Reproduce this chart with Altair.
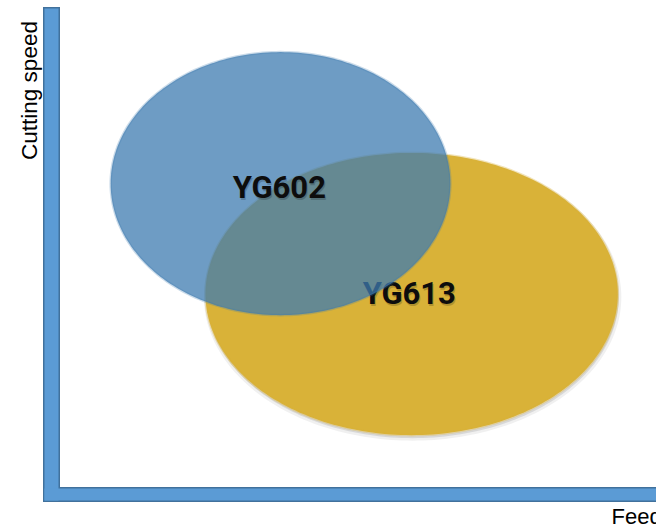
import numpy as np
import pandas as pd
import altair as alt

# Application regions of two carbide grades on the feed / cutting-speed plane
grades = ["YG613", "YG602"]
center_feed = [5.90, 3.70]
center_speed = [4.02, 6.32]
radius_feed = [3.46, 2.85]
radius_speed = [2.94, 2.74]
label_feed = [5.86, 3.68]
label_speed = [4.00, 6.21]
fill_colors = ["#d9b238", "#3e7bb0"]
fill_opacity = [1.0, 0.75]

FEED_MAX = 10
SPEED_MAX = 10
W, H = 596, 480

BAR_FILL = "#5b9bd5"
BAR_EDGE = "#41719c"
TEXT_FONT = "Liberation Sans"
GRADE_FONT = "Roboto"

# Ellipse outlines built from each region's centre and radii
t = np.linspace(0, 2 * np.pi, 241)[:-1]
rows = []
for g, cx, cy, rx, ry in zip(grades, center_feed, center_speed, radius_feed, radius_speed):
    for i, a in enumerate(t):
        rows.append({"grade": g, "i": i,
                     "feed": cx + rx * np.cos(a),
                     "speed": cy + ry * np.sin(a)})
outline = pd.DataFrame(rows)
labels = pd.DataFrame({"grade": grades, "feed": label_feed, "speed": label_speed})

x_enc = alt.X(
    "feed:Q",
    scale=alt.Scale(domain=[0, FEED_MAX], nice=False, zero=False),
    axis=alt.Axis(domain=False, ticks=False, labels=False, grid=False,
                  title="Feed", titleX=551, titleY=36, titleAlign="left",
                  titleBaseline="alphabetic", titleFont=TEXT_FONT,
                  titleFontSize=22, titleFontWeight="normal", titleColor="#000"),
)
y_enc = alt.Y(
    "speed:Q",
    scale=alt.Scale(domain=[0, SPEED_MAX], nice=False, zero=False),
    axis=alt.Axis(domain=False, ticks=False, labels=False, grid=False,
                  title="Cutting speed", titleX=-24, titleY=83, titleAngle=270,
                  titleAlign="center", titleBaseline="alphabetic",
                  titleFont=TEXT_FONT, titleFontSize=22.5,
                  titleFontWeight="normal", titleColor="#000"),
)

one = alt.Data(values=[{}])


def bar(x0, x1, y0, y1, color):
    return alt.Chart(one).mark_rect(color=color).encode(
        x=alt.value(x0), x2=alt.value(x1), y=alt.value(y0), y2=alt.value(y1)
    )


# Thick L-shaped frame standing in for the two axes
frame = [
    bar(-17, 0, 0, 495, BAR_EDGE),
    bar(-17, W, 480, 495, BAR_EDGE),
    bar(-15.5, -1.5, 1.5, 493.5, BAR_FILL),
    bar(-15.5, W, 481.5, 493.5, BAR_FILL),
]


def region(grade, color, opacity):
    return alt.Chart(outline).transform_filter(
        alt.datum.grade == grade
    ).mark_line(
        interpolate="linear-closed", fill=color, fillOpacity=opacity,
        stroke=color, strokeOpacity=0.35 * opacity, strokeWidth=2.5,
    ).encode(x=x_enc, y=y_enc, order=alt.Order("i:Q"))


def region_shadow(grade):
    return alt.Chart(outline).transform_filter(
        alt.datum.grade == grade
    ).mark_line(
        interpolate="linear-closed", fill="#000", fillOpacity=0.10,
        stroke="#000", strokeOpacity=0.06, strokeWidth=5, yOffset=3, xOffset=1,
    ).encode(x=x_enc, y=y_enc, order=alt.Order("i:Q"))


def grade_label(grade):
    base = alt.Chart(labels).transform_filter(alt.datum.grade == grade)
    glow = base.mark_text(
        font=GRADE_FONT, fontSize=31, fontWeight="bold", color="#000",
        opacity=0.18, dx=1, dy=2, align="center", baseline="middle",
    ).encode(x=x_enc, y=y_enc, text="grade:N")
    main = base.mark_text(
        font=GRADE_FONT, fontSize=31, fontWeight="bold", color="#0d0d0d",
        align="center", baseline="middle",
    ).encode(x=x_enc, y=y_enc, text="grade:N")
    return [glow, main]


layers = frame + [
    region_shadow("YG613"),
    region("YG613", fill_colors[0], fill_opacity[0]),
    *grade_label("YG613"),
    region("YG602", fill_colors[1], fill_opacity[1]),
    *grade_label("YG602"),
]

chart = alt.layer(*layers).properties(
    width=W,
    height=H,
    padding={"left": 60, "top": 7, "right": 0, "bottom": 43},
    autosize=alt.AutoSizeParams(type="none"),
    background="#ffffff",
).configure_view(stroke=None)

chart.save("out.html", embed_options={"renderer": "svg", "actions": False})
